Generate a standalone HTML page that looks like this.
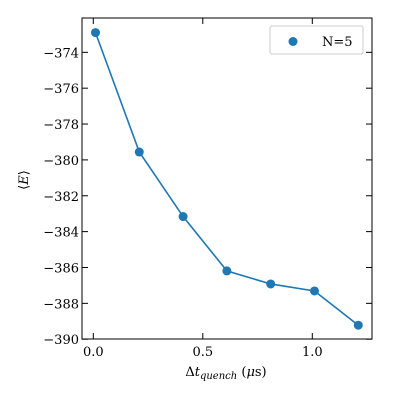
<!DOCTYPE html>
<html><head><meta charset="utf-8"><style>
body{margin:0;background:#fff}
svg text{font-family:"DejaVu Serif","Liberation Serif",serif;font-size:13px;fill:#000}
</style></head><body>
<svg id="chart" width="400" height="400">
<rect x="82" y="18" width="290" height="321" fill="none" stroke="#000" stroke-width="1"/>
<g id="ticks"></g>
<g id="series"></g>
<text x="226" y="376" text-anchor="middle" font-size="14">Δ<tspan font-style="italic">t</tspan><tspan font-style="italic" font-size="10" dy="3">quench</tspan><tspan dy="-3"> (</tspan><tspan font-style="italic">μ</tspan>s)</text>
<text transform="translate(28,180) rotate(-90)" text-anchor="middle" font-size="14">⟨<tspan font-style="italic">E</tspan>⟩</text>
<g>
<rect x="270" y="26" width="93" height="28" rx="2" fill="#fff" stroke="#ccc"/>
<circle cx="293" cy="41.5" r="4.5" fill="#1f77b4"/>
<text x="322" y="46" font-size="14">N=5</text>
</g>
</svg>
<script>
const xValues=[0.01,0.21,0.41,0.61,0.81,1.01,1.21];
const yValues=[-372.9,-379.56,-383.16,-386.19,-386.92,-387.31,-389.22];
const xTicks=[0.0,0.5,1.0];
const xTickLabels=["0.0","0.5","1.0"];
const yTicks=[-374,-376,-378,-380,-382,-384,-386,-388,-390];
const yTickLabels=["−374","−376","−378","−380","−382","−384","−386","−388","−390"];
const L=82,R=372,T=18,B=339;
const X=v=>93.3+(v-0)*219;
const Y=v=>339.2-(v+390)*17.93;
const NS="http://www.w3.org/2000/svg";
const tk=document.getElementById('ticks'),se=document.getElementById('series');
function mk(tag,at,p){const e=document.createElementNS(NS,tag);for(const k in at)e.setAttribute(k,at[k]);p.appendChild(e);return e;}
xTicks.forEach((v,i)=>{const x=X(v);
 let a=mk('line',{x1:x,x2:x,y1:B,y2:B-6,stroke:'#000'},tk);
 
 
 let b=mk('line',{x1:x,x2:x,y1:T,y2:T+6,stroke:'#000'},tk);
 
 
 let t=mk('text',{x:x,y:B+17,'text-anchor':'middle'},tk);t.textContent=xTickLabels[i];
 
 
});
yTicks.forEach((v,i)=>{const y=Y(v);
 let a=mk('line',{x1:L,x2:L+6,y1:y,y2:y,stroke:'#000'},tk);
 
 
 let b=mk('line',{x1:R,x2:R-6,y1:y,y2:y,stroke:'#000'},tk);
 
 
 let t=mk('text',{x:L-3,y:y+5,'text-anchor':'end'},tk);t.textContent=yTickLabels[i];
 
 
});
const pl=mk('polyline',{points:xValues.map((v,i)=>X(v)+','+Y(yValues[i])).join(' '),fill:'none',stroke:'#1f77b4','stroke-width':1.6},se);


xValues.forEach((v,i)=>{const c=mk('circle',{cx:X(v),cy:Y(yValues[i]),r:4.5,fill:'#1f77b4'},se);
 
 
});
</script>
</body></html>
